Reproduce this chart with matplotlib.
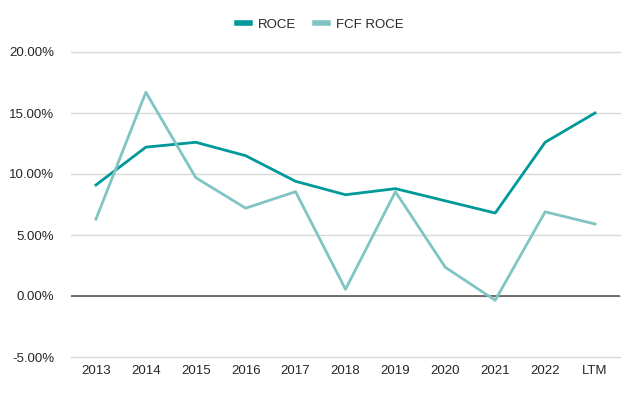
import matplotlib
matplotlib.use("Agg")
import matplotlib.pyplot as plt
from matplotlib.ticker import FuncFormatter

plt.rcParams['font.family'] = ['Liberation Sans', 'DejaVu Sans']

years = ["2013", "2014", "2015", "2016", "2017", "2018", "2019", "2020", "2021", "2022", "LTM"]
roce = [9.1, 12.2, 12.6, 11.5, 9.4, 8.3, 8.8, 7.8, 6.8, 12.6, 15.0]
fcf_roce = [6.3, 16.7, 9.7, 7.2, 8.55, 0.55, 8.55, 2.35, -0.35, 6.9, 5.9]
y_ticks = [-5, 0, 5, 10, 15, 20]

fig = plt.figure(figsize=(6.4, 3.96), dpi=100)
ax = fig.add_axes([71 / 640, 1 - 357 / 396, 549 / 640, 305 / 396])

x = list(range(len(years)))
ax.plot(x, roce, color="#009999", lw=2, label="ROCE", zorder=3)
ax.plot(x, fcf_roce, color="#80C4C4", lw=2, label="FCF ROCE", zorder=3)

ax.set_xlim(-0.5, len(years) - 0.5)
ax.set_ylim(-5, 20)
ax.set_yticks(y_ticks)
ax.yaxis.set_major_formatter(FuncFormatter(lambda v, p: f"{v:.2f}%"))
ax.set_xticks(x)
ax.set_xticklabels(years)
ax.grid(axis="y", color="#d9d9d9", lw=1, zorder=0)
for gl in ax.get_ygridlines():
    gl.set_clip_on(False)
ax.axhline(0, color="#595959", lw=1.2, zorder=2)
for s in ax.spines.values():
    s.set_visible(False)
ax.tick_params(length=0, labelsize=9.5, colors="#262626", pad=6)
ax.tick_params(axis="y", pad=12)

# legend centred on the figure, above the plot
ax.legend(loc="center", bbox_to_anchor=(0.454, 1.089), ncol=2, frameon=False,
          fontsize=9.5, handlelength=1.0, handletextpad=0.6, columnspacing=1.4,
          labelcolor="#262626")
leg = ax.get_legend()
for line in leg.get_lines():
    line.set_linewidth(4)

fig.savefig("out.png", dpi=100)
